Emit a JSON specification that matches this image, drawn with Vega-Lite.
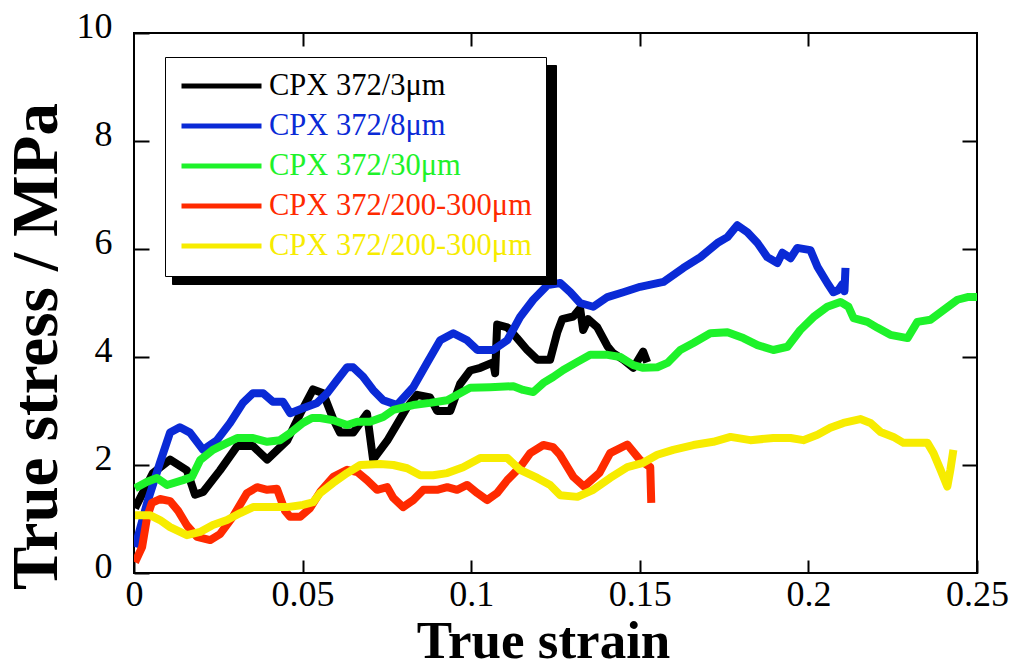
{
  "$schema": "https://vega.github.io/schema/vega-lite/v6.json",
  "width": 843,
  "height": 540,
  "autosize": "none",
  "padding": {"left": 134, "top": 33, "right": 36, "bottom": 95},
  "background": "white",
  "data": {
    "values": [
      {"sample": "CPX 372/3μm", "strain": 0.0003, "stress": 1.2},
      {"sample": "CPX 372/3μm", "strain": 0.0056, "stress": 1.85},
      {"sample": "CPX 372/3μm", "strain": 0.0107, "stress": 2.1},
      {"sample": "CPX 372/3μm", "strain": 0.0157, "stress": 1.9},
      {"sample": "CPX 372/3μm", "strain": 0.0181, "stress": 1.45},
      {"sample": "CPX 372/3μm", "strain": 0.0205, "stress": 1.5},
      {"sample": "CPX 372/3μm", "strain": 0.0255, "stress": 1.9},
      {"sample": "CPX 372/3μm", "strain": 0.0306, "stress": 2.35},
      {"sample": "CPX 372/3μm", "strain": 0.0353, "stress": 2.35},
      {"sample": "CPX 372/3μm", "strain": 0.0395, "stress": 2.1},
      {"sample": "CPX 372/3μm", "strain": 0.0454, "stress": 2.45},
      {"sample": "CPX 372/3μm", "strain": 0.0493, "stress": 2.95},
      {"sample": "CPX 372/3μm", "strain": 0.0531, "stress": 3.4},
      {"sample": "CPX 372/3μm", "strain": 0.0561, "stress": 3.33},
      {"sample": "CPX 372/3μm", "strain": 0.0591, "stress": 2.85},
      {"sample": "CPX 372/3μm", "strain": 0.0611, "stress": 2.6},
      {"sample": "CPX 372/3μm", "strain": 0.065, "stress": 2.6},
      {"sample": "CPX 372/3μm", "strain": 0.0691, "stress": 2.95},
      {"sample": "CPX 372/3μm", "strain": 0.0709, "stress": 2.1},
      {"sample": "CPX 372/3μm", "strain": 0.0751, "stress": 2.45},
      {"sample": "CPX 372/3μm", "strain": 0.0789, "stress": 2.85},
      {"sample": "CPX 372/3μm", "strain": 0.081, "stress": 3.07},
      {"sample": "CPX 372/3μm", "strain": 0.084, "stress": 3.3},
      {"sample": "CPX 372/3μm", "strain": 0.0878, "stress": 3.25},
      {"sample": "CPX 372/3μm", "strain": 0.0899, "stress": 3.0},
      {"sample": "CPX 372/3μm", "strain": 0.0938, "stress": 3.0},
      {"sample": "CPX 372/3μm", "strain": 0.0967, "stress": 3.5},
      {"sample": "CPX 372/3μm", "strain": 0.0997, "stress": 3.75},
      {"sample": "CPX 372/3μm", "strain": 0.1027, "stress": 3.8},
      {"sample": "CPX 372/3μm", "strain": 0.1065, "stress": 3.9},
      {"sample": "CPX 372/3μm", "strain": 0.1071, "stress": 3.7},
      {"sample": "CPX 372/3μm", "strain": 0.1077, "stress": 4.6},
      {"sample": "CPX 372/3μm", "strain": 0.1107, "stress": 4.55},
      {"sample": "CPX 372/3μm", "strain": 0.1136, "stress": 4.35},
      {"sample": "CPX 372/3μm", "strain": 0.1166, "stress": 4.13},
      {"sample": "CPX 372/3μm", "strain": 0.1196, "stress": 3.95},
      {"sample": "CPX 372/3μm", "strain": 0.1234, "stress": 3.95},
      {"sample": "CPX 372/3μm", "strain": 0.1255, "stress": 4.45},
      {"sample": "CPX 372/3μm", "strain": 0.127, "stress": 4.7},
      {"sample": "CPX 372/3μm", "strain": 0.1303, "stress": 4.75},
      {"sample": "CPX 372/3μm", "strain": 0.1323, "stress": 4.9},
      {"sample": "CPX 372/3μm", "strain": 0.1332, "stress": 4.5},
      {"sample": "CPX 372/3μm", "strain": 0.1347, "stress": 4.7},
      {"sample": "CPX 372/3μm", "strain": 0.1374, "stress": 4.55},
      {"sample": "CPX 372/3μm", "strain": 0.1404, "stress": 4.2},
      {"sample": "CPX 372/3μm", "strain": 0.1421, "stress": 4.07},
      {"sample": "CPX 372/3μm", "strain": 0.1451, "stress": 3.95},
      {"sample": "CPX 372/3μm", "strain": 0.1481, "stress": 3.8},
      {"sample": "CPX 372/3μm", "strain": 0.151, "stress": 4.1},
      {"sample": "CPX 372/3μm", "strain": 0.1522, "stress": 3.9},

      {"sample": "CPX 372/8μm", "strain": 0.0003, "stress": 0.48},
      {"sample": "CPX 372/8μm", "strain": 0.0039, "stress": 1.3},
      {"sample": "CPX 372/8μm", "strain": 0.0077, "stress": 2.04},
      {"sample": "CPX 372/8μm", "strain": 0.0107, "stress": 2.6},
      {"sample": "CPX 372/8μm", "strain": 0.0136, "stress": 2.7},
      {"sample": "CPX 372/8μm", "strain": 0.0166, "stress": 2.6},
      {"sample": "CPX 372/8μm", "strain": 0.0205, "stress": 2.28},
      {"sample": "CPX 372/8μm", "strain": 0.0246, "stress": 2.46},
      {"sample": "CPX 372/8μm", "strain": 0.0285, "stress": 2.78},
      {"sample": "CPX 372/8μm", "strain": 0.0323, "stress": 3.15},
      {"sample": "CPX 372/8μm", "strain": 0.0353, "stress": 3.33},
      {"sample": "CPX 372/8μm", "strain": 0.0383, "stress": 3.33},
      {"sample": "CPX 372/8μm", "strain": 0.0412, "stress": 3.17},
      {"sample": "CPX 372/8μm", "strain": 0.0442, "stress": 3.17},
      {"sample": "CPX 372/8μm", "strain": 0.0463, "stress": 2.96},
      {"sample": "CPX 372/8μm", "strain": 0.0501, "stress": 3.05},
      {"sample": "CPX 372/8μm", "strain": 0.0543, "stress": 3.15},
      {"sample": "CPX 372/8μm", "strain": 0.0573, "stress": 3.33},
      {"sample": "CPX 372/8μm", "strain": 0.0602, "stress": 3.57},
      {"sample": "CPX 372/8μm", "strain": 0.0632, "stress": 3.81},
      {"sample": "CPX 372/8μm", "strain": 0.065, "stress": 3.81},
      {"sample": "CPX 372/8μm", "strain": 0.068, "stress": 3.63},
      {"sample": "CPX 372/8μm", "strain": 0.0709, "stress": 3.39},
      {"sample": "CPX 372/8μm", "strain": 0.0739, "stress": 3.2},
      {"sample": "CPX 372/8μm", "strain": 0.078, "stress": 3.11},
      {"sample": "CPX 372/8μm", "strain": 0.0828, "stress": 3.44},
      {"sample": "CPX 372/8μm", "strain": 0.0869, "stress": 3.89},
      {"sample": "CPX 372/8μm", "strain": 0.0908, "stress": 4.31},
      {"sample": "CPX 372/8μm", "strain": 0.0947, "stress": 4.44},
      {"sample": "CPX 372/8μm", "strain": 0.0988, "stress": 4.31},
      {"sample": "CPX 372/8μm", "strain": 0.1018, "stress": 4.13},
      {"sample": "CPX 372/8μm", "strain": 0.1065, "stress": 4.13},
      {"sample": "CPX 372/8μm", "strain": 0.1107, "stress": 4.31},
      {"sample": "CPX 372/8μm", "strain": 0.1145, "stress": 4.74},
      {"sample": "CPX 372/8μm", "strain": 0.1184, "stress": 5.06},
      {"sample": "CPX 372/8μm", "strain": 0.1226, "stress": 5.33},
      {"sample": "CPX 372/8μm", "strain": 0.1264, "stress": 5.37},
      {"sample": "CPX 372/8μm", "strain": 0.1294, "stress": 5.2},
      {"sample": "CPX 372/8μm", "strain": 0.1323, "stress": 5.0},
      {"sample": "CPX 372/8μm", "strain": 0.1362, "stress": 4.93},
      {"sample": "CPX 372/8μm", "strain": 0.1404, "stress": 5.11},
      {"sample": "CPX 372/8μm", "strain": 0.1451, "stress": 5.2},
      {"sample": "CPX 372/8μm", "strain": 0.1501, "stress": 5.3},
      {"sample": "CPX 372/8μm", "strain": 0.157, "stress": 5.39},
      {"sample": "CPX 372/8μm", "strain": 0.1629, "stress": 5.65},
      {"sample": "CPX 372/8μm", "strain": 0.168, "stress": 5.85},
      {"sample": "CPX 372/8μm", "strain": 0.173, "stress": 6.11},
      {"sample": "CPX 372/8μm", "strain": 0.176, "stress": 6.22},
      {"sample": "CPX 372/8μm", "strain": 0.1789, "stress": 6.44},
      {"sample": "CPX 372/8μm", "strain": 0.1819, "stress": 6.31},
      {"sample": "CPX 372/8μm", "strain": 0.1849, "stress": 6.11},
      {"sample": "CPX 372/8μm", "strain": 0.1878, "stress": 5.85},
      {"sample": "CPX 372/8μm", "strain": 0.1908, "stress": 5.74},
      {"sample": "CPX 372/8μm", "strain": 0.1923, "stress": 5.93},
      {"sample": "CPX 372/8μm", "strain": 0.1947, "stress": 5.83},
      {"sample": "CPX 372/8μm", "strain": 0.1967, "stress": 6.02},
      {"sample": "CPX 372/8μm", "strain": 0.2006, "stress": 5.98},
      {"sample": "CPX 372/8μm", "strain": 0.2027, "stress": 5.67},
      {"sample": "CPX 372/8μm", "strain": 0.2056, "stress": 5.37},
      {"sample": "CPX 372/8μm", "strain": 0.2074, "stress": 5.2},
      {"sample": "CPX 372/8μm", "strain": 0.2089, "stress": 5.24},
      {"sample": "CPX 372/8μm", "strain": 0.2101, "stress": 5.35},
      {"sample": "CPX 372/8μm", "strain": 0.2107, "stress": 5.22},
      {"sample": "CPX 372/8μm", "strain": 0.211, "stress": 5.65},

      {"sample": "CPX 372/30μm", "strain": 0.0003, "stress": 1.57},
      {"sample": "CPX 372/30μm", "strain": 0.0039, "stress": 1.69},
      {"sample": "CPX 372/30μm", "strain": 0.0068, "stress": 1.76},
      {"sample": "CPX 372/30μm", "strain": 0.0098, "stress": 1.63},
      {"sample": "CPX 372/30μm", "strain": 0.0145, "stress": 1.72},
      {"sample": "CPX 372/30μm", "strain": 0.0172, "stress": 1.78},
      {"sample": "CPX 372/30μm", "strain": 0.0196, "stress": 2.09},
      {"sample": "CPX 372/30μm", "strain": 0.0234, "stress": 2.28},
      {"sample": "CPX 372/30μm", "strain": 0.0276, "stress": 2.41},
      {"sample": "CPX 372/30μm", "strain": 0.0306, "stress": 2.5},
      {"sample": "CPX 372/30μm", "strain": 0.0353, "stress": 2.5},
      {"sample": "CPX 372/30μm", "strain": 0.0395, "stress": 2.43},
      {"sample": "CPX 372/30μm", "strain": 0.0433, "stress": 2.46},
      {"sample": "CPX 372/30μm", "strain": 0.0463, "stress": 2.59},
      {"sample": "CPX 372/30μm", "strain": 0.0501, "stress": 2.78},
      {"sample": "CPX 372/30μm", "strain": 0.0528, "stress": 2.87},
      {"sample": "CPX 372/30μm", "strain": 0.0552, "stress": 2.87},
      {"sample": "CPX 372/30μm", "strain": 0.0591, "stress": 2.83},
      {"sample": "CPX 372/30μm", "strain": 0.0632, "stress": 2.74},
      {"sample": "CPX 372/30μm", "strain": 0.0662, "stress": 2.8},
      {"sample": "CPX 372/30μm", "strain": 0.07, "stress": 2.8},
      {"sample": "CPX 372/30μm", "strain": 0.0739, "stress": 2.89},
      {"sample": "CPX 372/30μm", "strain": 0.0769, "stress": 3.02},
      {"sample": "CPX 372/30μm", "strain": 0.0828, "stress": 3.11},
      {"sample": "CPX 372/30μm", "strain": 0.0878, "stress": 3.15},
      {"sample": "CPX 372/30μm", "strain": 0.0929, "stress": 3.2},
      {"sample": "CPX 372/30μm", "strain": 0.0967, "stress": 3.33},
      {"sample": "CPX 372/30μm", "strain": 0.0997, "stress": 3.43},
      {"sample": "CPX 372/30μm", "strain": 0.1056, "stress": 3.44},
      {"sample": "CPX 372/30μm", "strain": 0.1125, "stress": 3.46},
      {"sample": "CPX 372/30μm", "strain": 0.1154, "stress": 3.39},
      {"sample": "CPX 372/30μm", "strain": 0.1184, "stress": 3.35},
      {"sample": "CPX 372/30μm", "strain": 0.1214, "stress": 3.52},
      {"sample": "CPX 372/30μm", "strain": 0.1243, "stress": 3.63},
      {"sample": "CPX 372/30μm", "strain": 0.1273, "stress": 3.76},
      {"sample": "CPX 372/30μm", "strain": 0.1315, "stress": 3.91},
      {"sample": "CPX 372/30μm", "strain": 0.1353, "stress": 4.04},
      {"sample": "CPX 372/30μm", "strain": 0.1404, "stress": 4.04},
      {"sample": "CPX 372/30μm", "strain": 0.1442, "stress": 4.0},
      {"sample": "CPX 372/30μm", "strain": 0.1481, "stress": 3.85},
      {"sample": "CPX 372/30μm", "strain": 0.151, "stress": 3.8},
      {"sample": "CPX 372/30μm", "strain": 0.1552, "stress": 3.81},
      {"sample": "CPX 372/30μm", "strain": 0.1582, "stress": 3.89},
      {"sample": "CPX 372/30μm", "strain": 0.162, "stress": 4.13},
      {"sample": "CPX 372/30μm", "strain": 0.1659, "stress": 4.26},
      {"sample": "CPX 372/30μm", "strain": 0.1709, "stress": 4.44},
      {"sample": "CPX 372/30μm", "strain": 0.176, "stress": 4.46},
      {"sample": "CPX 372/30μm", "strain": 0.1807, "stress": 4.35},
      {"sample": "CPX 372/30μm", "strain": 0.1849, "stress": 4.22},
      {"sample": "CPX 372/30μm", "strain": 0.1896, "stress": 4.13},
      {"sample": "CPX 372/30μm", "strain": 0.1938, "stress": 4.19},
      {"sample": "CPX 372/30μm", "strain": 0.1976, "stress": 4.5},
      {"sample": "CPX 372/30μm", "strain": 0.2015, "stress": 4.74},
      {"sample": "CPX 372/30μm", "strain": 0.2056, "stress": 4.93},
      {"sample": "CPX 372/30μm", "strain": 0.2095, "stress": 5.02},
      {"sample": "CPX 372/30μm", "strain": 0.2119, "stress": 4.93},
      {"sample": "CPX 372/30μm", "strain": 0.2134, "stress": 4.72},
      {"sample": "CPX 372/30μm", "strain": 0.2175, "stress": 4.65},
      {"sample": "CPX 372/30μm", "strain": 0.2205, "stress": 4.54},
      {"sample": "CPX 372/30μm", "strain": 0.2243, "stress": 4.41},
      {"sample": "CPX 372/30μm", "strain": 0.2294, "stress": 4.35},
      {"sample": "CPX 372/30μm", "strain": 0.2323, "stress": 4.65},
      {"sample": "CPX 372/30μm", "strain": 0.2362, "stress": 4.69},
      {"sample": "CPX 372/30μm", "strain": 0.2401, "stress": 4.87},
      {"sample": "CPX 372/30μm", "strain": 0.2442, "stress": 5.06},
      {"sample": "CPX 372/30μm", "strain": 0.2472, "stress": 5.11},
      {"sample": "CPX 372/30μm", "strain": 0.25, "stress": 5.11},

      {"sample": "CPX 372/200-300μm A", "strain": 0.0003, "stress": 0.2},
      {"sample": "CPX 372/200-300μm A", "strain": 0.0024, "stress": 0.48},
      {"sample": "CPX 372/200-300μm A", "strain": 0.0039, "stress": 1.04},
      {"sample": "CPX 372/200-300μm A", "strain": 0.0053, "stress": 1.3},
      {"sample": "CPX 372/200-300μm A", "strain": 0.0077, "stress": 1.37},
      {"sample": "CPX 372/200-300μm A", "strain": 0.0107, "stress": 1.33},
      {"sample": "CPX 372/200-300μm A", "strain": 0.0131, "stress": 1.15},
      {"sample": "CPX 372/200-300μm A", "strain": 0.0157, "stress": 0.88},
      {"sample": "CPX 372/200-300μm A", "strain": 0.0187, "stress": 0.67},
      {"sample": "CPX 372/200-300μm A", "strain": 0.0226, "stress": 0.61},
      {"sample": "CPX 372/200-300μm A", "strain": 0.0255, "stress": 0.72},
      {"sample": "CPX 372/200-300μm A", "strain": 0.0294, "stress": 1.05},
      {"sample": "CPX 372/200-300μm A", "strain": 0.0335, "stress": 1.48},
      {"sample": "CPX 372/200-300μm A", "strain": 0.0365, "stress": 1.59},
      {"sample": "CPX 372/200-300μm A", "strain": 0.0395, "stress": 1.54},
      {"sample": "CPX 372/200-300μm A", "strain": 0.0424, "stress": 1.56},
      {"sample": "CPX 372/200-300μm A", "strain": 0.0448, "stress": 1.15},
      {"sample": "CPX 372/200-300μm A", "strain": 0.0463, "stress": 1.04},
      {"sample": "CPX 372/200-300μm A", "strain": 0.0493, "stress": 1.04},
      {"sample": "CPX 372/200-300μm A", "strain": 0.0522, "stress": 1.2},
      {"sample": "CPX 372/200-300μm A", "strain": 0.0552, "stress": 1.5},
      {"sample": "CPX 372/200-300μm A", "strain": 0.0591, "stress": 1.78},
      {"sample": "CPX 372/200-300μm A", "strain": 0.0632, "stress": 1.91},
      {"sample": "CPX 372/200-300μm A", "strain": 0.0662, "stress": 1.87},
      {"sample": "CPX 372/200-300μm A", "strain": 0.0691, "stress": 1.72},
      {"sample": "CPX 372/200-300μm A", "strain": 0.0721, "stress": 1.54},
      {"sample": "CPX 372/200-300μm A", "strain": 0.0751, "stress": 1.59},
      {"sample": "CPX 372/200-300μm A", "strain": 0.0769, "stress": 1.39},
      {"sample": "CPX 372/200-300μm A", "strain": 0.0798, "stress": 1.22},
      {"sample": "CPX 372/200-300μm A", "strain": 0.0828, "stress": 1.35},
      {"sample": "CPX 372/200-300μm A", "strain": 0.0858, "stress": 1.54},
      {"sample": "CPX 372/200-300μm A", "strain": 0.0899, "stress": 1.54},
      {"sample": "CPX 372/200-300μm A", "strain": 0.0929, "stress": 1.59},
      {"sample": "CPX 372/200-300μm A", "strain": 0.0958, "stress": 1.54},
      {"sample": "CPX 372/200-300μm A", "strain": 0.0988, "stress": 1.63},
      {"sample": "CPX 372/200-300μm A", "strain": 0.1018, "stress": 1.48},
      {"sample": "CPX 372/200-300μm A", "strain": 0.1047, "stress": 1.35},
      {"sample": "CPX 372/200-300μm A", "strain": 0.1077, "stress": 1.48},
      {"sample": "CPX 372/200-300μm A", "strain": 0.1107, "stress": 1.72},
      {"sample": "CPX 372/200-300μm A", "strain": 0.1145, "stress": 1.96},
      {"sample": "CPX 372/200-300μm A", "strain": 0.1175, "stress": 2.22},
      {"sample": "CPX 372/200-300μm A", "strain": 0.1214, "stress": 2.37},
      {"sample": "CPX 372/200-300μm A", "strain": 0.1243, "stress": 2.33},
      {"sample": "CPX 372/200-300μm A", "strain": 0.1262, "stress": 2.2},
      {"sample": "CPX 372/200-300μm A", "strain": 0.1303, "stress": 1.78},
      {"sample": "CPX 372/200-300μm A", "strain": 0.1335, "stress": 1.6},
      {"sample": "CPX 372/200-300μm A", "strain": 0.138, "stress": 1.85},
      {"sample": "CPX 372/200-300μm A", "strain": 0.1412, "stress": 2.22},
      {"sample": "CPX 372/200-300μm A", "strain": 0.1463, "stress": 2.38},
      {"sample": "CPX 372/200-300μm A", "strain": 0.1501, "stress": 2.09},
      {"sample": "CPX 372/200-300μm A", "strain": 0.1531, "stress": 1.96},
      {"sample": "CPX 372/200-300μm A", "strain": 0.1534, "stress": 1.3},

      {"sample": "CPX 372/200-300μm B", "strain": 0.0003, "stress": 1.07},
      {"sample": "CPX 372/200-300μm B", "strain": 0.0047, "stress": 1.07},
      {"sample": "CPX 372/200-300μm B", "strain": 0.0077, "stress": 0.98},
      {"sample": "CPX 372/200-300μm B", "strain": 0.0107, "stress": 0.85},
      {"sample": "CPX 372/200-300μm B", "strain": 0.0157, "stress": 0.7},
      {"sample": "CPX 372/200-300μm B", "strain": 0.0196, "stress": 0.76},
      {"sample": "CPX 372/200-300μm B", "strain": 0.0234, "stress": 0.89},
      {"sample": "CPX 372/200-300μm B", "strain": 0.0276, "stress": 0.98},
      {"sample": "CPX 372/200-300μm B", "strain": 0.0315, "stress": 1.11},
      {"sample": "CPX 372/200-300μm B", "strain": 0.0353, "stress": 1.22},
      {"sample": "CPX 372/200-300μm B", "strain": 0.0404, "stress": 1.22},
      {"sample": "CPX 372/200-300μm B", "strain": 0.0454, "stress": 1.22},
      {"sample": "CPX 372/200-300μm B", "strain": 0.0501, "stress": 1.26},
      {"sample": "CPX 372/200-300μm B", "strain": 0.0531, "stress": 1.31},
      {"sample": "CPX 372/200-300μm B", "strain": 0.0552, "stress": 1.48},
      {"sample": "CPX 372/200-300μm B", "strain": 0.0591, "stress": 1.67},
      {"sample": "CPX 372/200-300μm B", "strain": 0.0632, "stress": 1.85},
      {"sample": "CPX 372/200-300μm B", "strain": 0.0671, "stress": 2.0},
      {"sample": "CPX 372/200-300μm B", "strain": 0.073, "stress": 2.02},
      {"sample": "CPX 372/200-300μm B", "strain": 0.0769, "stress": 2.0},
      {"sample": "CPX 372/200-300μm B", "strain": 0.081, "stress": 1.94},
      {"sample": "CPX 372/200-300μm B", "strain": 0.0849, "stress": 1.81},
      {"sample": "CPX 372/200-300μm B", "strain": 0.0887, "stress": 1.81},
      {"sample": "CPX 372/200-300μm B", "strain": 0.0929, "stress": 1.85},
      {"sample": "CPX 372/200-300μm B", "strain": 0.0976, "stress": 1.96},
      {"sample": "CPX 372/200-300μm B", "strain": 0.1027, "stress": 2.13},
      {"sample": "CPX 372/200-300μm B", "strain": 0.1065, "stress": 2.13},
      {"sample": "CPX 372/200-300μm B", "strain": 0.1107, "stress": 2.13},
      {"sample": "CPX 372/200-300μm B", "strain": 0.1145, "stress": 1.91},
      {"sample": "CPX 372/200-300μm B", "strain": 0.1196, "stress": 1.76},
      {"sample": "CPX 372/200-300μm B", "strain": 0.1234, "stress": 1.63},
      {"sample": "CPX 372/200-300μm B", "strain": 0.1264, "stress": 1.44},
      {"sample": "CPX 372/200-300μm B", "strain": 0.1315, "stress": 1.41},
      {"sample": "CPX 372/200-300μm B", "strain": 0.1362, "stress": 1.54},
      {"sample": "CPX 372/200-300μm B", "strain": 0.1412, "stress": 1.76},
      {"sample": "CPX 372/200-300μm B", "strain": 0.1463, "stress": 1.96},
      {"sample": "CPX 372/200-300μm B", "strain": 0.151, "stress": 2.04},
      {"sample": "CPX 372/200-300μm B", "strain": 0.1552, "stress": 2.19},
      {"sample": "CPX 372/200-300μm B", "strain": 0.1599, "stress": 2.28},
      {"sample": "CPX 372/200-300μm B", "strain": 0.1659, "stress": 2.37},
      {"sample": "CPX 372/200-300μm B", "strain": 0.1718, "stress": 2.43},
      {"sample": "CPX 372/200-300μm B", "strain": 0.1769, "stress": 2.52},
      {"sample": "CPX 372/200-300μm B", "strain": 0.1828, "stress": 2.46},
      {"sample": "CPX 372/200-300μm B", "strain": 0.1896, "stress": 2.5},
      {"sample": "CPX 372/200-300μm B", "strain": 0.1947, "stress": 2.5},
      {"sample": "CPX 372/200-300μm B", "strain": 0.1985, "stress": 2.46},
      {"sample": "CPX 372/200-300μm B", "strain": 0.2027, "stress": 2.56},
      {"sample": "CPX 372/200-300μm B", "strain": 0.2065, "stress": 2.69},
      {"sample": "CPX 372/200-300μm B", "strain": 0.2104, "stress": 2.78},
      {"sample": "CPX 372/200-300μm B", "strain": 0.2154, "stress": 2.85},
      {"sample": "CPX 372/200-300μm B", "strain": 0.2184, "stress": 2.78},
      {"sample": "CPX 372/200-300μm B", "strain": 0.2214, "stress": 2.61},
      {"sample": "CPX 372/200-300μm B", "strain": 0.2252, "stress": 2.52},
      {"sample": "CPX 372/200-300μm B", "strain": 0.2282, "stress": 2.41},
      {"sample": "CPX 372/200-300μm B", "strain": 0.2353, "stress": 2.41},
      {"sample": "CPX 372/200-300μm B", "strain": 0.2371, "stress": 2.22},
      {"sample": "CPX 372/200-300μm B", "strain": 0.2392, "stress": 1.91},
      {"sample": "CPX 372/200-300μm B", "strain": 0.2412, "stress": 1.6},
      {"sample": "CPX 372/200-300μm B", "strain": 0.2421, "stress": 1.91},
      {"sample": "CPX 372/200-300μm B", "strain": 0.243, "stress": 2.28}
    ]
  },
  "layer": [
    {
      "mark": {"type": "line", "strokeWidth": 8, "clip": true, "strokeJoin": "round"},
      "encoding": {
        "x": {
          "field": "strain", "type": "quantitative",
          "scale": {"domain": [0, 0.25], "nice": false, "zero": false},
          "axis": {
            "orient": "bottom", "values": [0, 0.05, 0.1, 0.15, 0.2, 0.25], "format": "~g",
            "offset": -13, "tickSize": 13, "labelPadding": 4, "labelFlush": false,
            "title": "True strain", "titleFontSize": 53, "titlePadding": 3, "titleX": 409
          }
        },
        "y": {
          "field": "stress", "type": "quantitative",
          "scale": {"domain": [0, 10], "nice": false},
          "axis": {
            "orient": "left", "values": [0, 2, 4, 6, 8, 10], "format": "d",
            "offset": -15, "tickSize": 15, "labelPadding": 22, "labelFlush": false, "labelOffset": -7,
            "title": "True stress / MPa", "titleFontSize": 65, "titlePadding": 6, "titleY": 313
          }
        },
        "color": {
          "field": "sample", "type": "nominal",
          "scale": {
            "domain": ["CPX 372/3μm", "CPX 372/8μm", "CPX 372/30μm", "CPX 372/200-300μm A", "CPX 372/200-300μm B"],
            "range": ["#000000", "#0a2ad6", "#1ef22a", "#ff2a00", "#f7ec00"]
          },
          "legend": {
            "orient": "none", "legendX": 31, "legendY": 24, "title": null, "zindex": 2,
            "symbolType": "stroke", "symbolSize": 6400, "symbolStrokeWidth": 5,
            "labelExpr": "replace(datum.label, / [AB]$/, '')",
            "labelColor": {"expr": "scale('color', datum.value)"},
            "labelFont": "Liberation Serif", "labelFontSize": 30.5, "labelLimit": 0,
            "labelOffset": 5, "rowPadding": 9, "padding": 14, "clipHeight": 30,
            "strokeColor": "black", "fillColor": "white"
          }
        }
      }
    },
    {
      "mark": {"type": "line", "strokeOpacity": 0},
      "encoding": {
        "x": {
          "field": "strain", "type": "quantitative",
          "axis": {"orient": "top", "values": [0.05, 0.1, 0.15, 0.2], "labels": false, "title": null,
                   "offset": -13, "tickSize": 13}
        },
        "y": {
          "field": "stress", "type": "quantitative",
          "axis": {"orient": "right", "values": [2, 4, 6, 8], "labels": false, "title": null,
                   "offset": -15, "tickSize": 15}
        },
        "detail": {"field": "sample"},
        "opacity": {
          "field": "sample", "type": "nominal",
          "legend": {
            "orient": "none", "legendX": 38, "legendY": 32, "title": null, "zindex": 1,
            "symbolType": "stroke", "symbolSize": 119716, "symbolStrokeWidth": 5,
            "symbolStrokeColor": "black", "symbolFillColor": "black",
            "labelExpr": "''", "labelColor": "black",
            "labelFont": "Liberation Serif", "labelFontSize": 30.5, "labelLimit": 0,
            "labelOffset": 5, "rowPadding": 9, "padding": 14, "clipHeight": 30,
            "strokeColor": "black", "fillColor": "black"
          }
        }
      }
    }
  ],
  "resolve": {"axis": {"x": "independent", "y": "independent"}},
  "config": {
    "view": {"stroke": "black", "strokeWidth": 2},
    "axis": {
      "labelFont": "Liberation Serif", "labelFontSize": 36, "labelColor": "black",
      "titleFont": "Liberation Serif", "titleFontWeight": "bold", "titleColor": "black",
      "grid": false, "domain": false, "tickColor": "black", "tickWidth": 2, "zindex": 1
    }
  }
}
